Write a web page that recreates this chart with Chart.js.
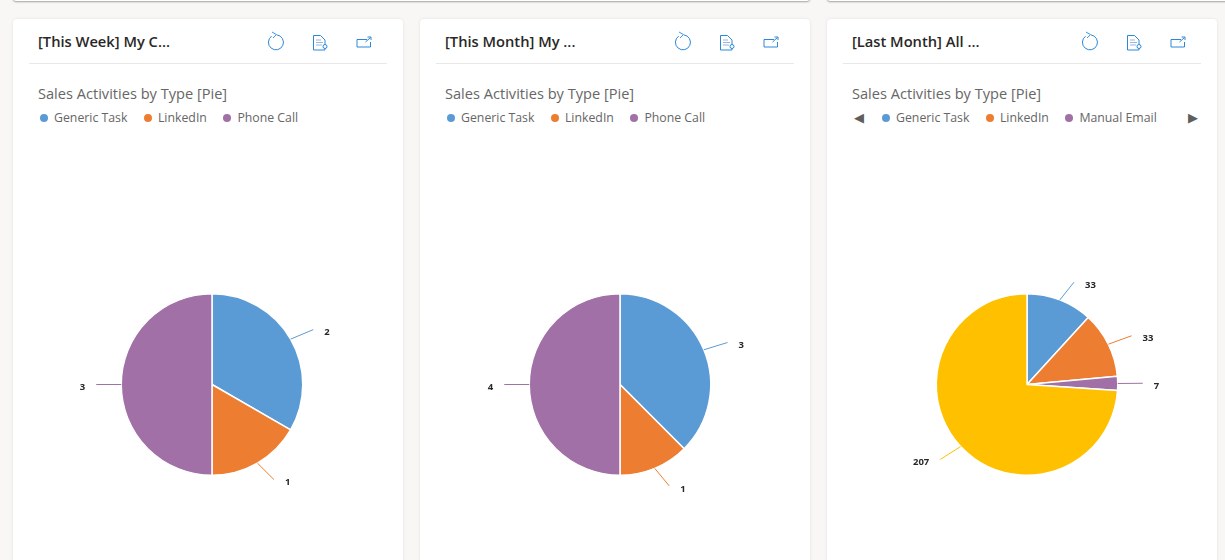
<!DOCTYPE html>
<html>
<head>
<meta charset="utf-8">
<title>Sales Activities</title>
<script src="https://cdn.jsdelivr.net/npm/chart.js@4/dist/chart.umd.min.js"></script>
<style>
    html, body { margin: 0; padding: 0; width: 1225px; height: 560px; overflow: hidden; background: #f8f7f6; font-family: "Open Sans", sans-serif; }
    .strip { position: absolute; top: -6px; height: 7px; background: #fff; border-radius: 4px; box-shadow: 0 1px 2px rgba(0,0,0,.35); }
    .card { position: absolute; top: 19px; width: 390px; height: 600px; background: #fff; border-radius: 4px; box-shadow: 0 0 3px rgba(0,0,0,.1); }
    .card-title { position: absolute; left: 25px; top: 12px; font-size: 14.7px; font-weight: 600; line-height: 20px; color: #292827; white-space: nowrap; }
    .card-line { position: absolute; left: 16px; right: 16px; top: 44px; height: 1px; background: #e8e8e8; }
    .card-icons { position: absolute; left: 0; top: 0; }
    .chart-title { position: absolute; left: 25px; top: 64px; font-size: 14.6px; line-height: 20px; color: #666; white-space: nowrap; }
    .legend { position: absolute; top: 90px; left: 27px; display: flex; font-size: 12.3px; line-height: 17px; color: #666; white-space: nowrap; }
    .legend span.item { display: flex; align-items: center; margin-right: 16.5px; }
    .legend i { width: 8px; height: 8px; border-radius: 50%; margin-right: 6px; }
    .arrow { position: absolute; top: 90px; font-size: 13px; line-height: 17px; color: #605e5c; font-family: "DejaVu Sans", sans-serif; }
    canvas { position: absolute; top: 116px; }
</style>
</head>
<body>
<div class="strip" style="left:13px;width:797px"></div>
<div class="strip" style="left:827px;width:410px"></div>
<div id="cards"></div>

<script>
const cardTitles = ["[This Week] My C...", "[This Month] My ...", "[Last Month] All ..."];
const chartTitle = "Sales Activities by Type [Pie]";

const weekLabels = ["Generic Task", "LinkedIn", "Phone Call"];
const weekValues = [2, 1, 3];
const weekColors = ["#5B9BD5", "#ED7D31", "#A070A6"];

const monthLabels = ["Generic Task", "LinkedIn", "Phone Call"];
const monthValues = [3, 1, 4];
const monthColors = ["#5B9BD5", "#ED7D31", "#A070A6"];

const lastMonthLabels = ["Generic Task", "LinkedIn", "Manual Email", "Phone Call"];
const lastMonthValues = [33, 33, 7, 207];
const lastMonthColors = ["#5B9BD5", "#ED7D31", "#A070A6", "#FFC000"];

const cardLefts = [13, 420, 827];
const canvasLefts = [-1, 0, 0];

const iconBar = `
<svg class="card-icons" width="390" height="44" fill="none" stroke="#2b88d8" stroke-width="1">
    <path d="M258.6 17.2 A7.5 7.5 0 1 0 264 15.9" />
    <path d="M259 13 L263.5 15.6 L260 19" stroke-width="0.9" />
    <path d="M300.5 16.5 H307.5 L312 21 V31 H300.5 Z" />
    <path d="M303 21 H308 M303 23.5 H310 M303 26 H309" stroke="#9db4de" stroke-width="1.2" />
    <circle cx="312" cy="27.5" r="2" fill="#fff" />
    <path d="M354 20.5 H344 V28 H357.5 V23" />
    <path d="M352.5 23 L357.5 18.5 M354.5 18 H358 V21" />
</svg>`;

// Leader lines and value labels around each slice
const sliceLabels = {
    id: "sliceLabels",
    afterDatasetsDraw(chart) {
        const ctx = chart.ctx;
        const values = chart.data.datasets[0].data;
        chart.getDatasetMeta(0).data.forEach((arc, i) => {
            const { x, y, startAngle, endAngle, outerRadius } = arc.getProps(["x", "y", "startAngle", "endAngle", "outerRadius"], true);
            const mid = (startAngle + endAngle) / 2;
            const cos = Math.cos(mid);
            const sin = Math.sin(mid);
            const side = cos >= 0 ? 1 : -1;
            const x0 = x + outerRadius * cos;
            const y0 = y + outerRadius * sin;
            const x1 = x0 + side * 8 + 17 * cos;
            const y1 = y0 + 19 * sin;

            ctx.save();
            ctx.strokeStyle = chart.data.datasets[0].backgroundColor[i];
            ctx.lineWidth = 1;
            ctx.beginPath();
            ctx.moveTo(x0, y0);
            ctx.lineTo(x1, y1);
            ctx.stroke();

            ctx.fillStyle = "#292827";
            ctx.font = '700 9.5px "Open Sans"';
            ctx.textAlign = side > 0 ? "left" : "right";
            ctx.textBaseline = "middle";
            ctx.fillText(values[i], x1 + side * 11, y1 + 3);
            ctx.restore();
        });
    }
};

const addCard = (index, labels, values, colors, shownLegend, paged) => {
    const card = document.createElement("div");
    card.className = "card";
    card.style.left = cardLefts[index] + "px";

    const legendItems = labels.slice(0, shownLegend).map((name, i) =>
        `<span class="item"><i style="background:${colors[i]}"></i>${name}</span>`).join("");

    card.innerHTML = `
        <div class="card-title">${cardTitles[index]}</div>
        ${iconBar}
        <div class="card-line"></div>
        <div class="chart-title">${chartTitle}</div>
        <div class="legend" style="left:${paged ? 55 : 27}px">${legendItems}</div>
        ${paged ? '<span class="arrow" style="left:27px">◀</span><span class="arrow" style="left:361px">▶</span>' : ""}
        <canvas width="390" height="500" style="left:${canvasLefts[index]}px"></canvas>`;
    document.getElementById("cards").appendChild(card);

    new Chart(card.querySelector("canvas"), {
        type: "pie",
        data: {
            labels: labels,
            datasets: [{
                data: values,
                backgroundColor: colors,
                borderColor: "#fff",
                borderWidth: 1.5
            }]
        },
        options: {
            responsive: false,
            animation: false,
            layout: { padding: { top: 158, bottom: 159, left: 108.5, right: 98.5 } },
            plugins: {
                legend: { display: false },
                tooltip: { enabled: false }
            }
        },
        plugins: [sliceLabels]
    });
};

addCard(0, weekLabels, weekValues, weekColors, 3, false);
addCard(1, monthLabels, monthValues, monthColors, 3, false);
addCard(2, lastMonthLabels, lastMonthValues, lastMonthColors, 3, true);
</script>
</body>
</html>
